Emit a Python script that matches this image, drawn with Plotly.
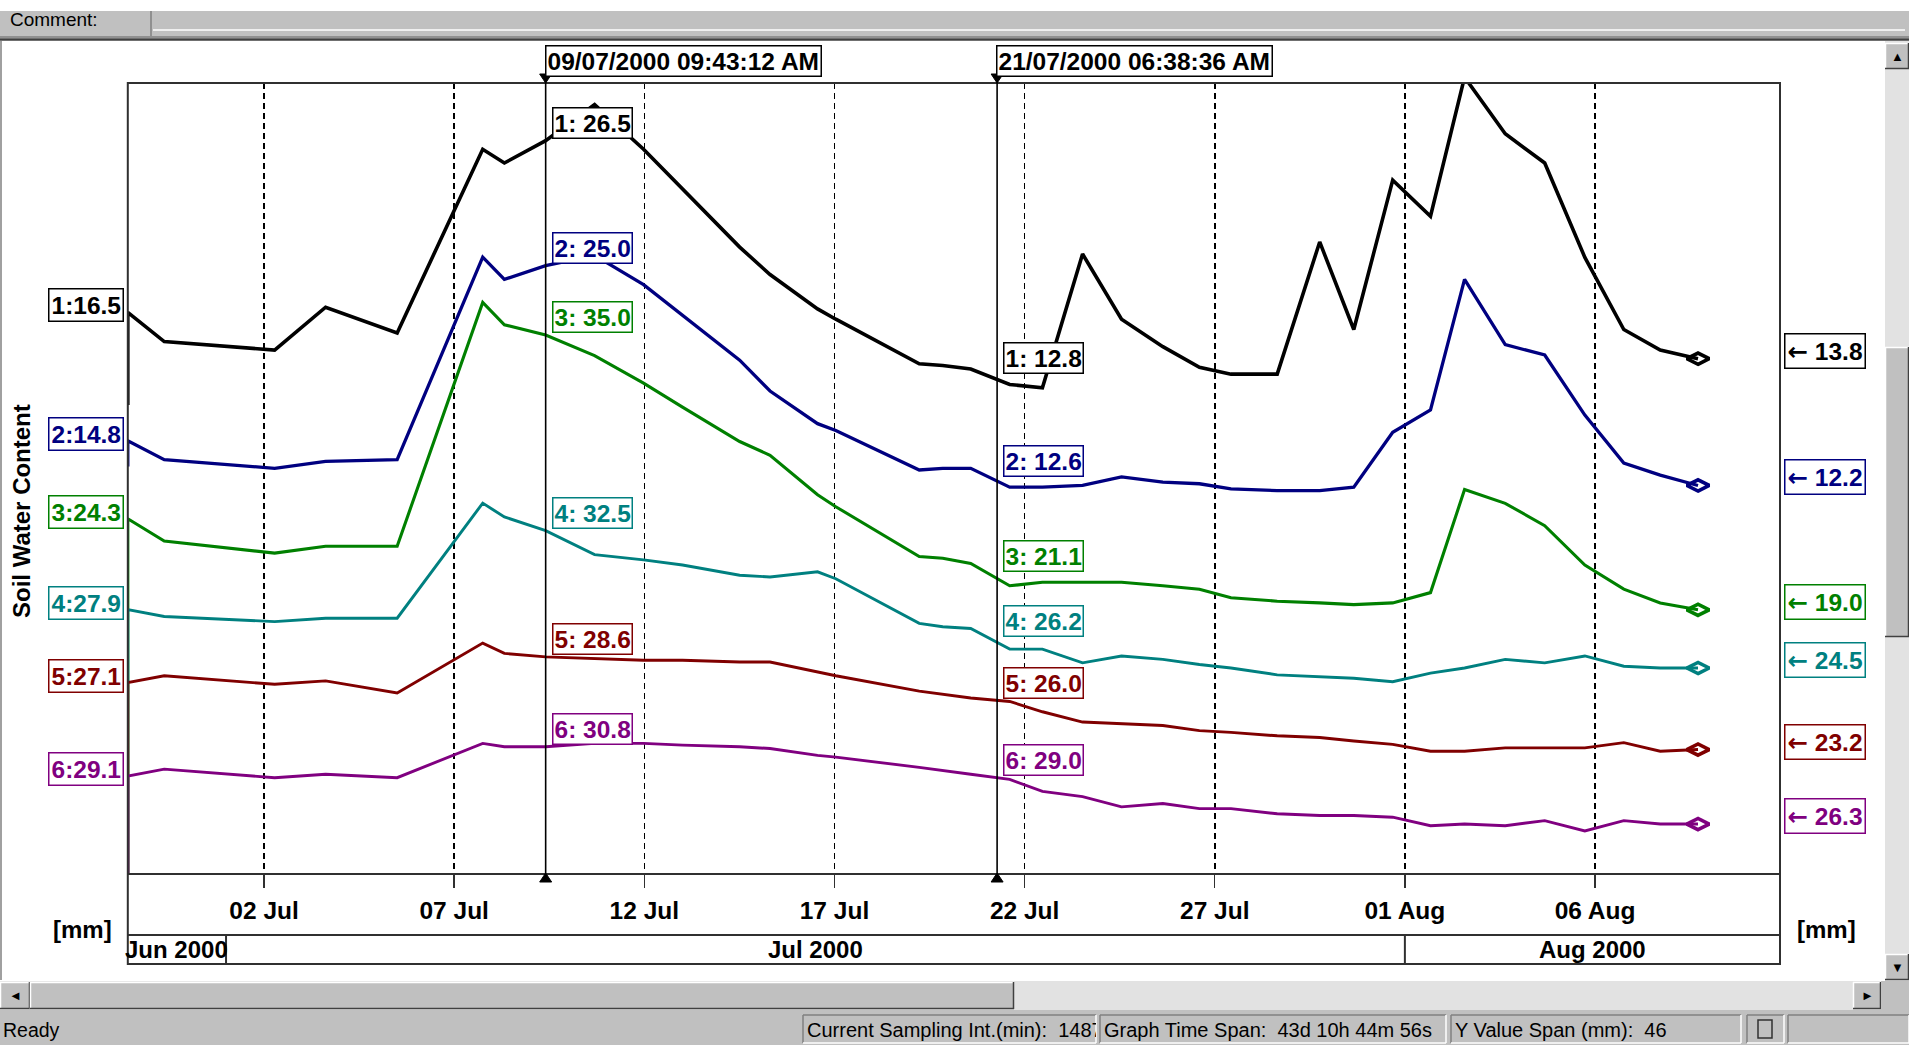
import plotly.graph_objects as go
import pandas as pd

W, H = 1909, 1045

# ---------------- data ----------------
times = [
    "2000-06-28 10:00", "2000-06-28 10:00", "2000-06-29 09:00", "2000-07-02 06:40",
    "2000-07-03 14:50", "2000-07-05 12:00", "2000-07-07 18:00", "2000-07-08 07:40",
    "2000-07-09 09:43", "2000-07-10 16:35", "2000-07-11 23:30", "2000-07-13 00:05",
    "2000-07-14 12:10", "2000-07-15 07:20", "2000-07-16 13:20", "2000-07-17 00:50",
    "2000-07-19 05:30", "2000-07-19 20:20", "2000-07-20 14:00", "2000-07-21 14:35",
    "2000-07-22 11:15", "2000-07-23 12:35", "2000-07-24 13:10", "2000-07-25 15:15",
    "2000-07-26 14:20", "2000-07-27 10:15", "2000-07-28 15:25", "2000-07-29 18:15",
    "2000-07-30 15:45", "2000-07-31 16:20", "2000-08-01 16:10", "2000-08-02 13:40",
    "2000-08-03 15:20", "2000-08-04 16:15", "2000-08-05 17:35", "2000-08-06 18:10",
    "2000-08-07 17:10", "2000-08-08 17:00",
]
s1 = [11.1, 16.5, 14.8, 14.3, 16.8, 15.3, 26.0, 25.2, 26.5, 28.6, 26.0, 23.7, 20.3, 18.7,
      16.7, 16.1, 13.5, 13.4, 13.2, 12.3, 12.1, 19.9, 16.1, 14.5, 13.3, 12.9, 12.9, 20.6,
      15.5, 24.2, 22.1, 30.2, 26.9, 25.2, 19.7, 15.5, 14.3, 13.8]
s2 = [13.3, 14.8, 13.7, 13.2, 13.6, 13.7, 25.5, 24.2, 25.0, 25.6, 23.9, 22.1, 19.5, 17.7,
      15.8, 15.4, 13.1, 13.2, 13.2, 12.1, 12.1, 12.2, 12.7, 12.4, 12.3, 12.0, 11.9, 11.9,
      12.1, 15.3, 16.6, 24.2, 20.4, 19.8, 16.3, 13.5, 12.8, 12.2]
s3 = [3.0, 24.3, 23.0, 22.3, 22.7, 22.7, 36.9, 35.6, 35.0, 33.8, 32.2, 30.8, 28.8, 28.0,
      25.7, 25.0, 22.1, 22.0, 21.7, 20.4, 20.6, 20.6, 20.6, 20.4, 20.2, 19.7, 19.5, 19.4,
      19.3, 19.4, 20.0, 26.0, 25.2, 23.9, 21.6, 20.2, 19.4, 19.0]
s4 = [12.0, 27.9, 27.5, 27.2, 27.4, 27.4, 34.1, 33.3, 32.5, 31.1, 30.8, 30.5, 29.9, 29.8,
      30.1, 29.7, 27.1, 26.9, 26.8, 25.6, 25.6, 24.8, 25.2, 25.0, 24.7, 24.5, 24.1, 24.0,
      23.9, 23.7, 24.2, 24.5, 25.0, 24.8, 25.2, 24.6, 24.5, 24.5]
s5 = [15.5, 27.1, 27.5, 27.0, 27.2, 26.5, 29.4, 28.8, 28.6, 28.5, 28.4, 28.4, 28.3, 28.3,
      27.7, 27.5, 26.6, 26.4, 26.2, 26.0, 25.4, 24.8, 24.7, 24.6, 24.3, 24.2, 24.0, 23.9,
      23.7, 23.5, 23.1, 23.1, 23.3, 23.3, 23.3, 23.6, 23.1, 23.2]
s6 = [23.0, 29.1, 29.5, 29.0, 29.2, 29.0, 31.0, 30.8, 30.8, 31.0, 31.0, 30.9, 30.8, 30.7,
      30.3, 30.2, 29.6, 29.4, 29.2, 28.9, 28.2, 27.9, 27.3, 27.5, 27.2, 27.2, 26.9, 26.8,
      26.8, 26.7, 26.2, 26.3, 26.2, 26.5, 25.9, 26.5, 26.3, 26.3]
series = [s1, s2, s3, s4, s5, s6]
series_ids = ["1", "2", "3", "4", "5", "6"]
colors = ["#000000", "#000080", "#008000", "#008080", "#800000", "#800080"]

cursor_times = ["2000-07-09 09:43:12", "2000-07-21 06:38:36"]
cursor_texts = ["09/07/2000 09:43:12 AM", "21/07/2000 06:38:36 AM"]
cursor_vals = [
    [26.5, 25.0, 35.0, 32.5, 28.6, 30.8],
    [12.8, 12.6, 21.1, 26.2, 26.0, 29.0],
]
month_starts = ["2000-06-01", "2000-07-01", "2000-08-01", "2000-09-01"]
month_labels = ["Jun 2000", "Jul 2000", "Aug 2000"]
x_start = "2000-06-28 10:00:00"
x_end = "2000-08-10 20:44:56"
y_title = "Soil Water Content"
unit = "[mm]"
status_texts = ["Current Sampling Int.(min):  1487",
                "Graph Time Span:  43d 10h 44m 56s",
                "Y Value Span (mm):  46"]

# per-series vertical windows (46 mm span each)
y_ranges = [(-16.16, 29.86), (-10.37, 35.64), (3.67, 49.68),
            (12.56, 58.57), (16.01, 62.02), (23.45, 69.46)]

# ---------------- helpers ----------------
def px(x):
    return x / W


def py(y):
    return 1 - y / H


PL, PR, PT, PB = 127.8, 1780.0, 83.0, 873.0
XDOM = [px(PL), px(PR)]
YDOM = [py(PB), py(PT)]
FONT = "Liberation Sans, Arial, sans-serif"
BORDER = "#303030"
LBL = 24.5

fig = go.Figure()
for i, (vals, col) in enumerate(zip(series, colors)):
    yid = "y" if i == 0 else f"y{i + 1}"
    lw = [3.6, 3.3, 3.1, 2.9, 2.9, 2.9][i]
    fig.add_trace(go.Scatter(x=times, y=vals, yaxis=yid, mode="lines",
                             line=dict(color=col, width=lw), hoverinfo="skip",
                             showlegend=False))
    fig.add_trace(go.Scatter(x=[times[-1]], y=[vals[-1]], yaxis=yid, mode="markers",
                             marker=dict(symbol="diamond-wide-open", size=16,
                                         color=col, line=dict(color=col, width=3.6)),
                             hoverinfo="skip", showlegend=False))

layout = dict(
    width=W, height=H, margin=dict(l=0, r=0, t=0, b=0),
    paper_bgcolor="white", plot_bgcolor="white", showlegend=False,
    hovermode=False,
    xaxis=dict(domain=XDOM, type="date", range=[x_start, x_end], anchor="y",
               showline=True, linecolor=BORDER, linewidth=2,
               ticks="outside", ticklen=13, tickwidth=1.5, tickcolor=BORDER,
               tick0="2000-07-02", dtick=5 * 86400000, tickformat="%d %b",
               tickfont=dict(family=FONT, size=24.5, color="black", weight="bold"),
               ticklabelstandoff=2,
               showgrid=True, gridcolor="#000000", griddash="6px,4px", gridwidth=1.6,
               zeroline=False, fixedrange=True),
)
for i, r in enumerate(y_ranges):
    key = "yaxis" if i == 0 else f"yaxis{i + 1}"
    ax = dict(domain=YDOM, range=list(r), visible=False, fixedrange=True,
              showgrid=False, zeroline=False)
    if i > 0:
        ax["overlaying"] = "y"
    layout[key] = ax
fig.update_layout(**layout)

shapes = []
ann = []


def rect(x0, y0, x1, y1, fill, line=None, lw=0):
    shapes.append(dict(type="rect", xref="paper", yref="paper",
                       x0=px(x0), x1=px(x1), y0=py(y1), y1=py(y0),
                       fillcolor=fill, line=dict(width=lw, color=line or fill),
                       layer="above"))


def seg(x0, y0, x1, y1, color, w=1.5):
    shapes.append(dict(type="line", xref="paper", yref="paper", x0=px(x0), x1=px(x1),
                       y0=py(y0), y1=py(y1), line=dict(color=color, width=w),
                       layer="above"))


def button(x0, y0, x1, y1):
    rect(x0, y0, x1, y1, "#c0c0c0")
    seg(x0, y0 + 0.5, x1, y0 + 0.5, "#ffffff", 1.5)
    seg(x0 + 0.5, y0, x0 + 0.5, y1, "#ffffff", 1.5)
    seg(x0, y1 - 0.5, x1, y1 - 0.5, "#404040", 1.5)
    seg(x1 - 0.5, y0, x1 - 0.5, y1, "#404040", 1.5)


def text(x, y, s, size=18, bold=False, anchor="left", color="black", angle=0,
         width=None):
    d = dict(x=px(x), y=py(y), xref="paper", yref="paper", text=s,
             showarrow=False, xanchor=anchor, yanchor="middle",
             textangle=angle, align="left",
             font=dict(family=FONT, size=size, color=color,
                       weight="bold" if bold else "normal"))
    if width:
        d["width"] = width
    ann.append(d)


# ---- plot frame and x-axis band ----
rect(PL, PT, PR, 964, "rgba(0,0,0,0)", BORDER, 2)
seg(PL, 935, PR, 935, BORDER, 2)
x0_ts, x1_ts = pd.Timestamp(x_start), pd.Timestamp(x_end)
for k, lab in enumerate(month_labels):
    a = max(pd.Timestamp(month_starts[k]), x0_ts)
    b = min(pd.Timestamp(month_starts[k + 1]), x1_ts)
    if pd.Timestamp(month_starts[k]) > x0_ts:
        shapes.append(dict(type="line", xref="x", yref="paper",
                           x0=month_starts[k], x1=month_starts[k],
                           y0=py(935), y1=py(964),
                           line=dict(color=BORDER, width=2), layer="above"))
    mid = a + (b - a) / 2
    ann.append(dict(x=mid.strftime("%Y-%m-%d %H:%M:%S"), xref="x", y=py(949.5),
                    yref="paper", text=lab, showarrow=False, xanchor="center",
                    yanchor="middle",
                    font=dict(family=FONT, size=24, color="black", weight="bold")))

# ---- cursors ----
for ct, ctext, cvals in zip(cursor_times, cursor_texts, cursor_vals):
    shapes.append(dict(type="line", xref="x", yref="paper", x0=ct, x1=ct,
                       y0=py(PB), y1=py(74), line=dict(color="black", width=1.6),
                       layer="above"))
    shapes.append(dict(type="path", xref="x", yref="paper", xsizemode="pixel",
                       ysizemode="pixel", xanchor=ct, yanchor=py(PT),
                       path="M-6,9 L6,9 L0,0 Z", fillcolor="black",
                       line=dict(color="black", width=1), layer="above"))
    shapes.append(dict(type="path", xref="x", yref="paper", xsizemode="pixel",
                       ysizemode="pixel", xanchor=ct, yanchor=py(PB),
                       path="M-6,-9 L6,-9 L0,0 Z", fillcolor="black",
                       line=dict(color="black", width=1), layer="above"))
    ann.append(dict(x=ct, xref="x", y=py(61), yref="paper", text=ctext,
                    showarrow=False, xanchor="left", yanchor="middle", xshift=-1,
                    bgcolor="white", bordercolor="black", borderwidth=1.5, borderpad=1,
                    font=dict(family=FONT, size=LBL, color="black", weight="bold")))
    for i, (v, col) in enumerate(zip(cvals, colors)):
        yid = "y" if i == 0 else f"y{i + 1}"
        ann.append(dict(x=ct, xref="x", y=v, yref=yid,
                        text=f"{series_ids[i]}: {v:.1f}", showarrow=False,
                        xanchor="left", yanchor="middle", xshift=6, yshift=18,
                        bgcolor="white", bordercolor=col, borderwidth=1.5,
                        borderpad=1,
                        font=dict(family=FONT, size=LBL, color=col, weight="bold")))

# ---- left / right value labels ----
ARROW = "<span style='font-family:DejaVu Sans;font-weight:bold'>\u2190</span>"
for i, (vals, col) in enumerate(zip(series, colors)):
    yid = "y" if i == 0 else f"y{i + 1}"
    ann.append(dict(x=px(124), xref="paper", y=vals[1], yref=yid,
                    text=f"{series_ids[i]}:{vals[1]:.1f}", showarrow=False,
                    xanchor="right", yanchor="middle", yshift=7,
                    bgcolor="white", bordercolor=col, borderwidth=1.5, borderpad=2,
                    font=dict(family=FONT, size=LBL, color=col, weight="bold")))
    ann.append(dict(x=px(1784), xref="paper", y=vals[-1], yref=yid,
                    text=f"{ARROW} {vals[-1]:.1f}", showarrow=False,
                    xanchor="left", yanchor="middle", yshift=8,
                    bgcolor="white", bordercolor=col, borderwidth=1.5, borderpad=2,
                    font=dict(family=FONT, size=LBL, color=col, weight="bold")))

text(21, 511, y_title, size=24, bold=True, anchor="center", angle=-90)
text(82, 929, unit, size=24, bold=True, anchor="center")
text(1826, 929, unit, size=24, bold=True, anchor="center")

# ---- window chrome ----
rect(0, 11, W, 38, "#c0c0c0")
seg(151, 11, 151, 36, "#808080", 1.5)
seg(153, 30, 1905, 30, "#ffffff", 1.5)
seg(0, 37, W, 37, "#808080", 1.5)
seg(0, 39.5, W, 39.5, "#404040", 2.5)
text(8, 19, "Comment:", size=19)
seg(1, 41, 1, 980, "#808080", 1.5)

# vertical scrollbar
rect(1885, 41, W, 981, "#e2e2e2")
button(1885, 43, W, 69)
button(1885, 347, W, 637)
button(1885, 954, W, 980)
text(1897, 56, "\u25b2", size=13, anchor="center")
text(1897, 967, "\u25bc", size=13, anchor="center")

# horizontal scrollbar
rect(0, 981, W, 1010, "#e2e2e2")
button(0, 982, 30, 1009)
button(30, 982, 1014, 1009)
button(1853, 982, 1881, 1009)
rect(1881, 981, W, 1010, "#c0c0c0")
text(15, 995.5, "\u25c4", size=13, anchor="center")
text(1867, 995.5, "\u25ba", size=13, anchor="center")

# status bar
rect(0, 1010, W, H, "#c0c0c0")
panes = [(803, 1096), (1100, 1446), (1451, 1741), (1747, 1784), (1788, 1909)]
for a, b in panes:
    seg(a, 1015, b, 1015, "#808080", 1.5)
    seg(a, 1015, a, 1043, "#808080", 1.5)
    seg(a, 1043, b, 1043, "#ffffff", 1.5)
    seg(b, 1015, b, 1043, "#ffffff", 1.5)
text(1, 1030, "Ready", size=19.5)
for (a, b), s in zip(panes[:3], status_texts):
    text(a + 2, 1030, s, size=20, width=b - a - 4)
rect(1758, 1020, 1772, 1038, "rgba(0,0,0,0)", "#303030", 1.5)

fig.update_layout(shapes=shapes, annotations=ann)

fig.write_html("out.html", config={"displayModeBar": False, "staticPlot": True},
               post_script="document.body.style.margin='0px';"
                           "document.body.style.overflow='hidden';")
